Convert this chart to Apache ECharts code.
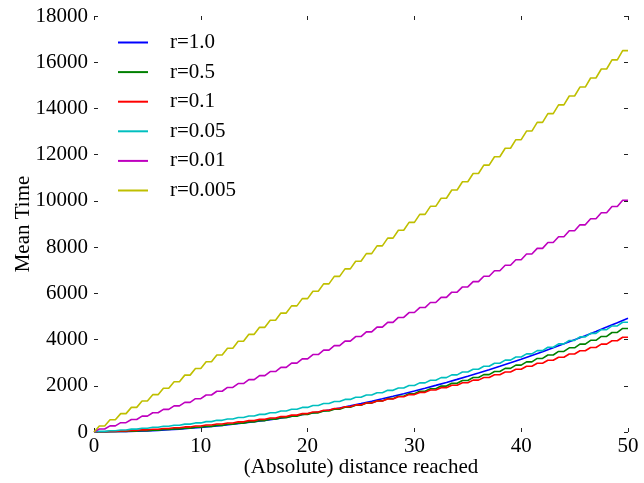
<!DOCTYPE html>
<html lang="en">
<head>
    <meta charset="UTF-8">
    <title>Mean Time</title>
    <style>
        html, body { margin: 0; padding: 0; background: #fff; }
    </style>
</head>
<body>
    <div id="app" style="width: 644px;height:483px;"></div>
    <script src="https://cdn.jsdelivr.net/npm/echarts@6/dist/echarts.min.js"></script>
    <script>
        // distance reached (x), 0..50
        const distance = [0,1,2,3,4,5,6,7,8,9,10,11,12,13,14,15,16,17,18,19,20,21,22,23,24,25,
            26,27,28,29,30,31,32,33,34,35,36,37,38,39,40,41,42,43,44,45,46,47,48,49,50];
        const yTicks = [0,2000,4000,6000,8000,10000,12000,14000,16000,18000];

        // mean time for each r at each whole distance
        const r1_0 = [0,2,8,18,32,49,71,97,126,160,197,238,284,333,386,443,504,569,638,711,788,
            869,953,1042,1135,1231,1332,1436,1544,1657,1773,1893,2017,2145,2277,2413,2553,2697,
            2845,2996,3152,3312,3475,3643,3814,3989,4169,4352,4539,4730,4925];
        const r0_5 = [0,5,13,25,40,59,81,107,136,169,205,244,287,334,384,437,494,554,618,685,755,
            829,907,988,1072,1160,1251,1346,1444,1546,1651,1760,1872,1987,2106,2229,2355,2484,
            2617,2753,2893,3036,3183,3333,3486,3643,3804,3967,4135,4306,4480];
        const r0_1 = [0,13,29,48,70,94,121,151,184,220,258,300,343,390,440,492,548,606,667,730,797,
            867,939,1014,1091,1172,1256,1342,1431,1522,1617,1714,1815,1918,2024,2132,2244,2358,
            2475,2595,2718,2843,2972,3103,3237,3374,3514,3656,3801,3949,4100];
        const r0_05 = [0,27,56,89,124,162,203,246,292,341,393,448,505,565,628,694,763,834,908,985,1065,
            1147,1232,1320,1411,1505,1601,1700,1803,1907,2015,2125,2238,2354,2473,2594,2718,2845,
            2975,3108,3243,3381,3522,3666,3812,3962,4114,4269,4427,4588,4750];
        const r0_01 = [0,131,266,403,543,685,831,979,1130,1284,1441,1601,1763,1928,2096,2267,2441,2617,
            2797,2979,3164,3352,3542,3736,3932,4131,4333,4538,4745,4956,5169,5385,5604,5826,6050,
            6277,6507,6740,6976,7215,7456,7700,7947,8197,8450,8705,8964,9225,9489,9756,10025];
        const r0_005 = [0,262,528,795,1066,1340,1616,1895,2176,2461,2748,3038,3331,3626,3925,4226,4529,
            4836,5145,5457,5772,6090,6410,6733,7059,7388,7719,8053,8390,8730,9072,9417,9765,10116,
            10469,10826,11185,11546,11911,12278,12648,13021,13396,13775,14156,14540,14926,15316,
            15708,16102,16500];

        const names = ['r=1.0','r=0.5','r=0.1','r=0.05','r=0.01','r=0.005'];
        const colors = ['#0000ff','#008000','#ff0000','#00bfbf','#bf00bf','#bfbf00'];
        const values = [r1_0, r0_5, r0_1, r0_05, r0_01, r0_005];
        const stepped = [false, true, true, true, true, true];

        // each value is held for the half step before its distance (staircase look)
        function toPoints(vals, stairs) {
            const pts = [[distance[0], vals[0]]];
            for (let i = 1; i < vals.length; i++) {
                if (stairs) pts.push([distance[i] - 0.5, vals[i]]);
                pts.push([distance[i], vals[i]]);
            }
            return pts;
        }

        const font = 'Liberation Serif';
        const tickStyle = { show: true, inside: true, length: 4, lineStyle: { color: '#222', width: 1 } };
        const xBase = { type: 'value', show: true, min: 0, max: 50, interval: 10,
            axisLine: { show: false, onZero: false }, splitLine: { show: false }, axisTick: tickStyle };
        const yBase = { type: 'value', show: true, min: yTicks[0], max: yTicks[yTicks.length - 1], interval: 2000,
            axisLine: { show: false, onZero: false }, splitLine: { show: false }, axisTick: tickStyle };

        const myChart = echarts.init(document.getElementById('app'));
        myChart.setOption({
            backgroundColor: '#fff',
            animation: false,
            textStyle: { fontFamily: font },
            grid: { left: 94, right: 16, top: 16, bottom: 51, containLabel: false, outerBoundsMode: 'none' },
            legend: {
                orient: 'vertical', left: 113, top: 27,
                icon: 'rect', itemWidth: 30, itemHeight: 2, itemGap: 8.6,
                textStyle: { fontFamily: font, fontSize: 21, color: '#000', lineHeight: 21,
                    padding: [0, 0, 0, 17] },
                data: names
            },
            xAxis: [
                Object.assign({}, xBase, {
                    position: 'bottom',
                    name: '(Absolute) distance reached', nameLocation: 'middle', nameGap: 25,
                    nameMoveOverlap: false,
                    nameTextStyle: { fontFamily: font, fontSize: 21, color: '#000' },
                    axisLabel: { fontFamily: font, fontSize: 21, color: '#000', margin: 4 }
                }),
                Object.assign({}, xBase, { position: 'top', axisLabel: { show: false } })
            ],
            yAxis: [
                Object.assign({}, yBase, {
                    position: 'left',
                    name: 'Mean Time', nameLocation: 'middle', nameGap: 60,
                    nameMoveOverlap: false,
                    nameTextStyle: { fontFamily: font, fontSize: 21, color: '#000' },
                    axisLabel: { fontFamily: font, fontSize: 21, color: '#000', margin: 6,
                        formatter: v => String(v) }
                }),
                Object.assign({}, yBase, { position: 'right', axisLabel: { show: false } })
            ],
            series: names.map((n, i) => ({
                name: n, type: 'line', xAxisIndex: 0, yAxisIndex: 0,
                showSymbol: false, symbol: 'none',
                lineStyle: { color: colors[i], width: 1.6 },
                itemStyle: { color: colors[i] },
                data: toPoints(values[i], stepped[i])
            }))
        });
    </script>
</body>
</html>
